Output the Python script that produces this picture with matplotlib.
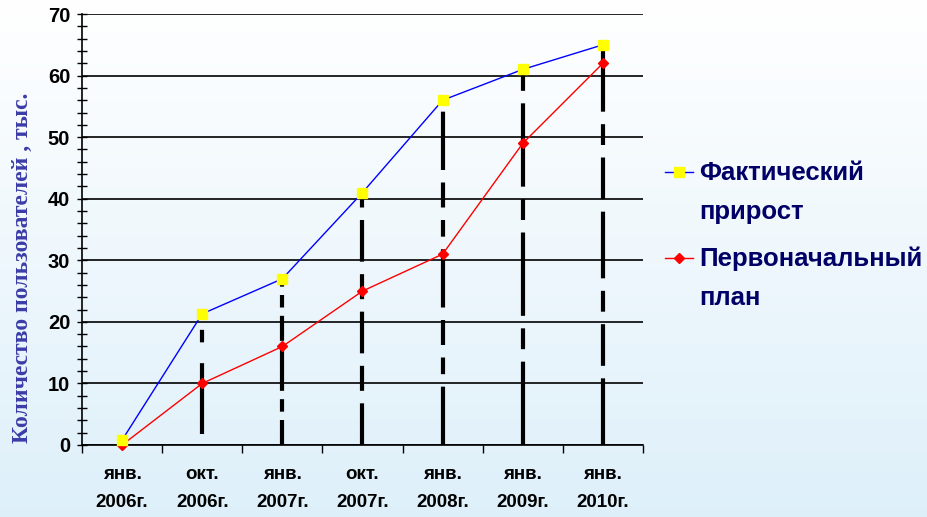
import numpy as np
import matplotlib
matplotlib.use('Agg')
import matplotlib.pyplot as plt
from matplotlib.lines import Line2D
from matplotlib.ticker import MultipleLocator, FixedLocator
from matplotlib import font_manager

# data
periods = ['янв.\n2006г.', 'окт.\n2006г.', 'янв.\n2007г.', 'окт.\n2007г.',
           'янв.\n2008г.', 'янв.\n2009г.', 'янв.\n2010г.']
fact = [0.8, 21.3, 27, 41, 56, 61, 65]
plan = [0, 10, 16, 25, 31, 49, 62]
drop_bottom = [0, 1.8, 0, 0, 0, 0, 0]

legend_fact = ['Фактический', 'прирост']
legend_plan = ['Первоначальный', 'план']
ylabel = 'Количество пользователей , тыс.'

names = {f.name for f in font_manager.fontManager.ttflist}
narrow = 'Liberation Sans Narrow' if 'Liberation Sans Narrow' in names else 'Liberation Sans'
plt.rcParams['font.family'] = [narrow, 'DejaVu Sans']
plt.rcParams['font.weight'] = 'bold'

fig = plt.figure(figsize=(9.28, 5.17), dpi=100)

# background gradient white -> light blue
bg = fig.add_axes([0, 0, 1, 1], zorder=-10)
grad = np.linspace(0, 1, 256).reshape(-1, 1)
top = np.array([1.0, 1.0, 1.0])
bot = np.array([0.87, 0.94, 0.98])
img = top[None, None, :] * (1 - grad[:, :, None]) + bot[None, None, :] * grad[:, :, None]
bg.imshow(img, aspect='auto', extent=[0, 1, 0, 1])
bg.axis('off')

ax = fig.add_axes([82/928, 1-445/517, (643-82)/928, (445-14)/517])
ax.set_facecolor('none')

x = np.arange(len(periods))

# dashed drop lines
dash_styles = [(0, (8, 2, 3, 2)), (0, (17, 5, 3, 5)), (0, (6, 2, 3, 2, 10, 2)),
               (0, (10, 3, 6, 3)), (0, (14, 3, 4, 3, 6, 3)),
               (0, (20, 3, 5, 3)), (0, (16, 3, 10, 3, 5, 3))]
for i in range(1, len(x)):
    ax.plot([x[i], x[i]], [drop_bottom[i], fact[i] - 0.8], color='black', lw=3,
            linestyle=dash_styles[i], solid_capstyle='butt', dash_capstyle='butt', zorder=2)

ax.plot(x, fact, color='#0000ff', lw=1, marker='s', markersize=7,
        markerfacecolor='#ffff00', markeredgecolor='#ffff00', zorder=4, clip_on=False)
ax.plot(x, plan, color='#ff0000', lw=1, marker='D', markersize=5,
        markerfacecolor='#ff0000', markeredgecolor='#ff0000', zorder=3, clip_on=False)

ax.set_xlim(-0.5, len(x) - 0.5)
ax.set_ylim(0, 70)

ax.yaxis.set_major_locator(MultipleLocator(10))
ax.yaxis.set_minor_locator(MultipleLocator(2))
ax.yaxis.grid(True, which='major', color='black', lw=1.2)
ax.set_axisbelow(True)
ax.tick_params(axis='y', which='both', direction='inout', length=7, width=1,
               pad=5, labelsize=14.5)

ax.xaxis.set_major_locator(FixedLocator(np.arange(-0.5, len(x), 1)))
ax.xaxis.set_minor_locator(FixedLocator(x))
ax.set_xticklabels([], minor=False)
ax.set_xticklabels(periods, minor=True, fontsize=13.5, linespacing=1.85)
ax.tick_params(axis='x', which='major', direction='out', length=6, width=1)
ax.tick_params(axis='x', which='minor', length=0, pad=15)

for s in ['top', 'right']:
    ax.spines[s].set_visible(False)
for s in ['left', 'bottom']:
    ax.spines[s].set_linewidth(1.2)

fig.text(22/928, 1-268/517, ylabel, rotation=90, ha='center', va='center',
         family='Liberation Serif', fontweight='bold', fontsize=17, color='#3c3ca8')

# legend drawn by hand to keep the marker on the first text line
for yy, col, mk, ms, lines in [(172, '#0000ff', 's', 7, legend_fact),
                               (258, '#ff0000', 'D', 5, legend_plan)]:
    yf = 1 - yy/517
    mface = '#ffff00' if mk == 's' else col
    fig.add_artist(Line2D([665/928, 693/928], [yf, yf], color=col, lw=1,
                          transform=fig.transFigure))
    fig.add_artist(Line2D([679/928], [yf], marker=mk, markersize=ms, color=col,
                          markerfacecolor=mface, markeredgecolor=mface,
                          transform=fig.transFigure))
    for k, line in enumerate(lines):
        base = yy + 8 + 39 * k
        fig.text(699/928, 1 - base/517, line, ha='left', va='baseline', fontsize=18.5,
                 fontweight='bold', family='Liberation Sans', color='#000066')

plt.savefig('out.png', dpi=100)
